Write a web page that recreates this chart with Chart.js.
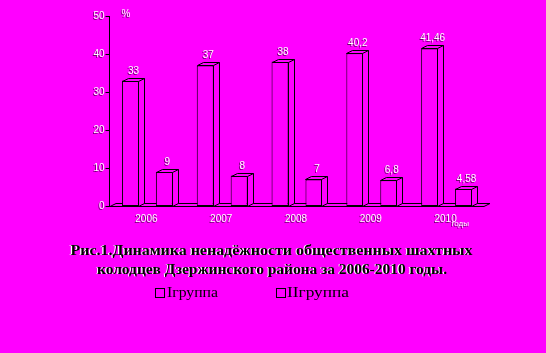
<!DOCTYPE html>
<html><head><meta charset="utf-8">
<script src="https://cdn.jsdelivr.net/npm/chart.js@4/dist/chart.umd.min.js"></script>
<style>html,body{margin:0;padding:0;background:#ff00ff;overflow:hidden} #wrap{width:546px;height:353px;position:relative}</style>
</head><body><div id="wrap"><canvas id="c" width="546" height="353"></canvas></div>
<script>
const years = ['2006', '2007', '2008', '2009', '2010'];
const group1 = [33, 37, 38, 40.2, 41.46];
const group2 = [9, 8, 7, 6.8, 4.58];
const seriesNames = ['Ігруппа', 'ІІгруппа'];
const yTicks = [0, 10, 20, 30, 40, 50];
const yUnit = '%';
const xUnit = 'годы';
const captionLines = ['Рис.1.Динамика ненадёжности общественных шахтных', 'колодцев Дзержинского района за 2006-2010 годы.'];

const MAG = '#ff00ff';
const DX = 6, DY = 3;
const fmt = v => String(v).replace('.', ',');

function whiteText(ctx, txt, x, y) {
  ctx.fillStyle = 'rgba(0,0,0,0.55)';
  ctx.fillText(txt, x - 1, y + 1);
  ctx.fillStyle = '#ffffff';
  ctx.fillText(txt, x, y);
}
function fitText(ctx, txt, left, width, y, font, color, halo) {
  ctx.save();
  ctx.font = font;
  const w = ctx.measureText(txt).width;
  ctx.translate(left, y);
  ctx.scale(width / w, 1);
  ctx.textAlign = 'left';
  ctx.textBaseline = 'middle';
  if (halo) { ctx.fillStyle = halo; ctx.fillText(txt, -1, 0); }
  ctx.fillStyle = color;
  ctx.fillText(txt, 0, 0);
  ctx.restore();
}

const decor = {
  id: 'decor',
  beforeDatasetsDraw(chart) {
    const ctx = chart.ctx, a = chart.chartArea;
    const ys = chart.scales.y, xs = chart.scales.x;
    ctx.save();
    ctx.strokeStyle = '#000'; ctx.lineWidth = 1;
    // floor
    const b = Math.round(ys.getPixelForValue(0)) + 0.5;
    ctx.beginPath();
    ctx.moveTo(a.left, b); ctx.lineTo(a.right, b);
    ctx.lineTo(a.right + DX, b - DY); ctx.lineTo(a.left + DX, b - DY);
    ctx.lineTo(a.left, b);
    ctx.stroke();
    // y axis
    const ax = Math.round(a.left) - 0.5;
    ctx.beginPath();
    ctx.moveTo(ax, ys.getPixelForValue(50)); ctx.lineTo(ax, b + 0.5);
    ctx.stroke();
    ctx.font = '10px "Liberation Sans", Arial, sans-serif';
    ctx.textAlign = 'right'; ctx.textBaseline = 'middle';
    yTicks.forEach(t => {
      const py = Math.round(ys.getPixelForValue(t)) + 0.5;
      ctx.beginPath(); ctx.moveTo(ax - 4, py); ctx.lineTo(ax, py); ctx.stroke();
      whiteText(ctx, String(t), ax - 5, py);
    });
    ctx.textAlign = 'left';
    whiteText(ctx, yUnit, ax + 12, ys.getPixelForValue(50) - 2);
    // x labels
    ctx.textAlign = 'center';
    years.forEach((yr, i) => {
      whiteText(ctx, yr, xs.getPixelForValue(i) - 1, b + 13);
    });
    ctx.font = '8px "Liberation Sans", Arial, sans-serif';
    ctx.textAlign = 'left';
    whiteText(ctx, xUnit, xs.getPixelForValue(years.length - 1) + 5, b + 17);
    ctx.restore();
  },
  afterDatasetsDraw(chart) {
    const ctx = chart.ctx;
    ctx.save();
    ctx.strokeStyle = '#000'; ctx.lineWidth = 1; ctx.fillStyle = MAG;
    chart.data.datasets.forEach((ds, di) => {
      const meta = chart.getDatasetMeta(di);
      meta.data.forEach((el, i) => {
        const p = el.getProps(['x', 'y', 'base', 'width'], true);
        const l = Math.round(p.x - p.width / 2) + 0.5, r = Math.round(p.x + p.width / 2) - 0.5;
        const t = Math.round(p.y) + 0.5, bb = Math.round(p.base) + 0.5;
        ctx.fillStyle = MAG;
        ctx.beginPath();
        ctx.moveTo(l, t); ctx.lineTo(l + DX, t - DY); ctx.lineTo(r + DX, t - DY);
        ctx.lineTo(r + DX, bb - DY); ctx.lineTo(r, bb); ctx.lineTo(r, t); ctx.closePath();
        ctx.fill(); ctx.stroke();
        ctx.beginPath(); ctx.moveTo(r, t); ctx.lineTo(r + DX, t - DY); ctx.stroke();
        ctx.font = '10px "Liberation Sans", Arial, sans-serif';
        ctx.textAlign = 'center'; ctx.textBaseline = 'alphabetic';
        whiteText(ctx, fmt(ds.data[i]), p.x + 3, t - 8);
      });
    });
    ctx.restore();
  },
  afterDraw(chart) {
    const ctx = chart.ctx;
    const capFont = 'bold 14px "Liberation Serif", "Times New Roman", serif';
    fitText(ctx, captionLines[0], 70.5, 402, 251, capFont, '#000', '#fff');
    fitText(ctx, captionLines[1], 97, 350, 270, capFont, '#000', '#fff');
    const legFont = '14px "Liberation Serif", "Times New Roman", serif';
    const boxes = [[155.5, 167, 51], [276.5, 287, 62]];
    chart.data.datasets.forEach((ds, i) => {
      const [bx, tx, tw] = boxes[i];
      ctx.save();
      ctx.fillStyle = MAG; ctx.strokeStyle = '#000'; ctx.lineWidth = 1;
      ctx.fillRect(bx, 288.5, 9, 9); ctx.strokeRect(bx, 288.5, 9, 9);
      ctx.restore();
      fitText(ctx, ds.label, tx, tw, 293.5, legFont, '#000', null);
    });
  }
};

new Chart(document.getElementById('c'), {
  type: 'bar',
  data: {
    labels: years,
    datasets: [
      { label: seriesNames[0], data: group1 },
      { label: seriesNames[1], data: group2 }
    ].map(d => Object.assign(d, {
      backgroundColor: MAG, borderColor: '#000', borderWidth: 1, borderSkipped: false,
      barPercentage: 0.5, categoryPercentage: 0.907
    }))
  },
  options: {
    responsive: false, animation: false, devicePixelRatio: 1,
    layout: { padding: { left: 110, right: 62, top: 16, bottom: 147 } },
    plugins: { legend: { display: false }, title: { display: false }, tooltip: { enabled: false } },
    scales: {
      x: { display: false, offset: true },
      y: { display: false, min: 0, max: 50, ticks: { stepSize: 10 } }
    }
  },
  plugins: [decor]
});
</script>
</body></html>
